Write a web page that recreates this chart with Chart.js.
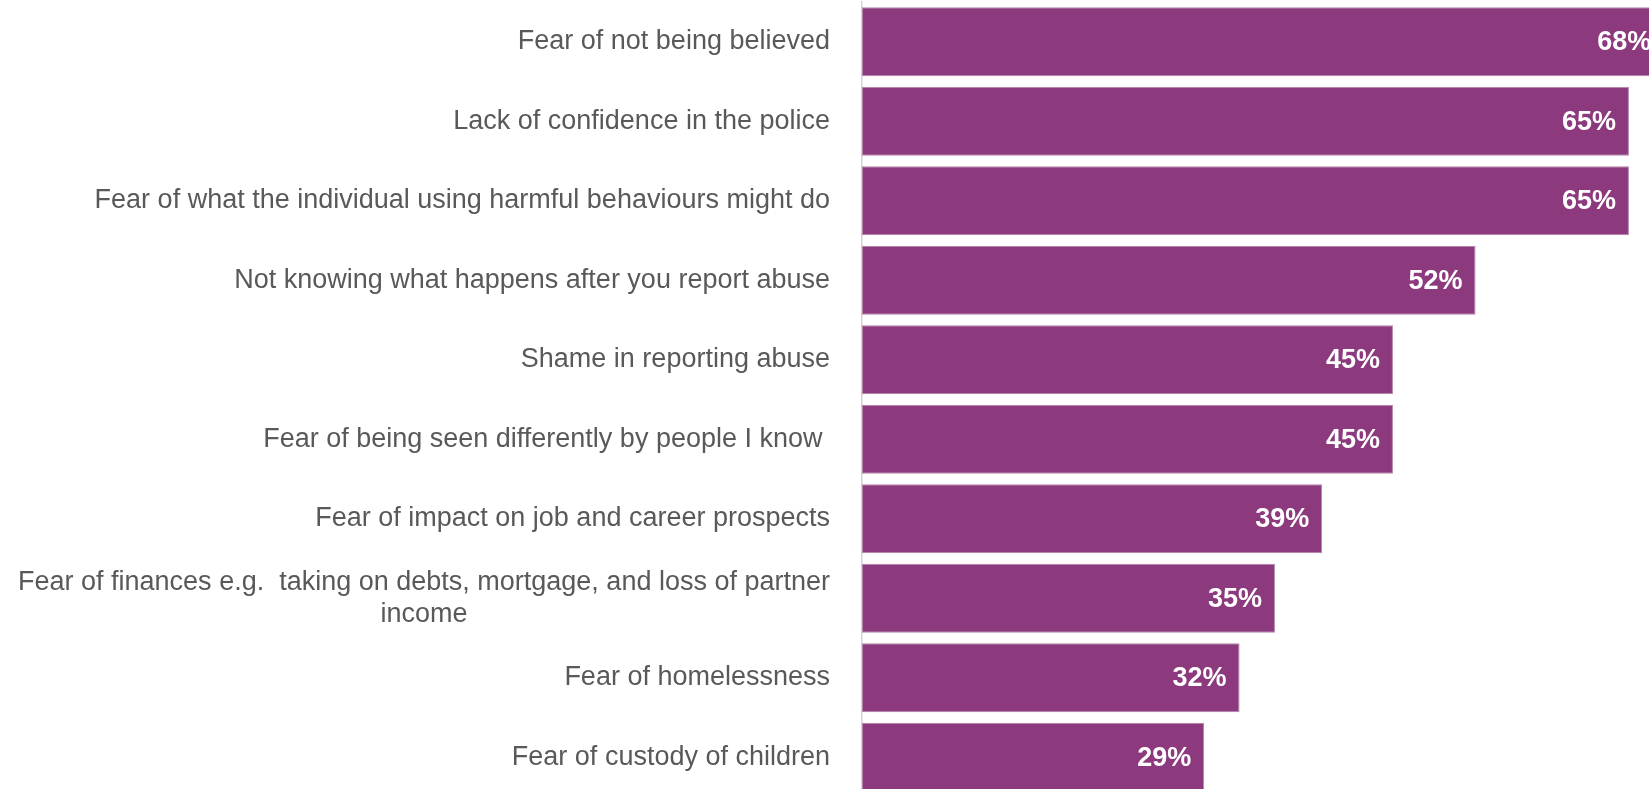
<!DOCTYPE html>
<html>

<head>
    <title>Barriers to reporting abuse</title>
    <script src="https://cdn.jsdelivr.net/npm/chart.js"></script>
    <style>
        html, body {
            margin: 0;
            padding: 0;
            background: #ffffff;
        }

        #wrap {
            width: 1649px;
            height: 789px;
            overflow: hidden;
        }

        /* the last bar runs off the bottom edge */
        #inner {
            width: 1649px;
            height: 797px;
            position: relative;
        }
    </style>
</head>

<body>
    <div id="wrap">
        <div id="inner">
            <canvas id="barriers-chart"></canvas>
        </div>
    </div>

    <script>
        // Reasons, top to bottom
        const reasons = [
            'Fear of not being believed',
            'Lack of confidence in the police',
            'Fear of what the individual using harmful behaviours might do',
            'Not knowing what happens after you report abuse',
            'Shame in reporting abuse',
            'Fear of being seen differently by people I know ',
            'Fear of impact on job and career prospects',
            ['Fear of finances e.g.  taking on debts, mortgage, and loss of partner', 'income'],
            'Fear of homelessness',
            'Fear of custody of children'
        ];

        // Share of respondents (%)
        const shares = [68, 65, 65, 52, 45, 45, 39, 35, 32, 29];

        const barColor = '#8C3A7D';
        const labelGrey = '#595959';

        Chart.defaults.font.family = "'Liberation Sans', Arial, sans-serif";

        // Wrapped category labels are centred on their own longest line
        const centerWrappedLabels = {
            id: 'centerWrappedLabels',
            beforeDraw(chart) {
                const scale = chart.scales.y;
                const ctx = chart.ctx;
                scale.getLabelItems().forEach(item => {
                    if (!Array.isArray(item.label) || item._centered) return;
                    ctx.save();
                    ctx.font = item.font.string;
                    const w = Math.max(...item.label.map(l => ctx.measureText(l).width));
                    ctx.restore();
                    item.options.textAlign = 'center';
                    item.options.translation[0] -= w / 2;
                    item._centered = true;
                });
            }
        };

        // Percentage printed inside the end of each bar
        const barValues = {
            id: 'barValues',
            afterDatasetsDraw(chart) {
                const ctx = chart.ctx;
                const meta = chart.getDatasetMeta(0);
                ctx.save();
                ctx.font = "bold 27px 'Liberation Sans', Arial, sans-serif";
                ctx.fillStyle = '#ffffff';
                ctx.textAlign = 'right';
                ctx.textBaseline = 'middle';
                meta.data.forEach((bar, i) => {
                    ctx.fillText(shares[i] + '%', bar.x - 13, bar.y + 1);
                });
                ctx.restore();
            }
        };

        const ctx = document.getElementById('barriers-chart').getContext('2d');
        new Chart(ctx, {
            type: 'bar',
            data: {
                labels: reasons,
                datasets: [{
                    data: shares,
                    backgroundColor: barColor,
                    borderColor: '#B584AC',
                    borderWidth: 1,
                    borderSkipped: false,
                    categoryPercentage: 1,
                    barPercentage: 0.868
                }]
            },
            options: {
                indexAxis: 'y',
                responsive: true,
                maintainAspectRatio: false,
                animation: false,
                layout: {
                    padding: { top: 2, bottom: 0, left: 0, right: 0 }
                },
                plugins: {
                    legend: { display: false },
                    tooltip: { enabled: false }
                },
                scales: {
                    x: {
                        display: false,
                        min: 0,
                        max: 66.7
                    },
                    y: {
                        afterFit(scale) {
                            // fixed label column; no extra room above/below the bars
                            scale.width = 862;
                            scale.paddingTop = 0;
                            scale.paddingBottom = 0;
                        },
                        grid: {
                            display: false,
                            drawTicks: false
                        },
                        border: {
                            display: true,
                            color: '#D3D3D3',
                            width: 1.5
                        },
                        ticks: {
                            autoSkip: false,
                            padding: 32,
                            color: labelGrey,
                            font: { size: 27, lineHeight: 1.2 }
                        }
                    }
                }
            },
            plugins: [centerWrappedLabels, barValues]
        });
    </script>
</body>

</html>
